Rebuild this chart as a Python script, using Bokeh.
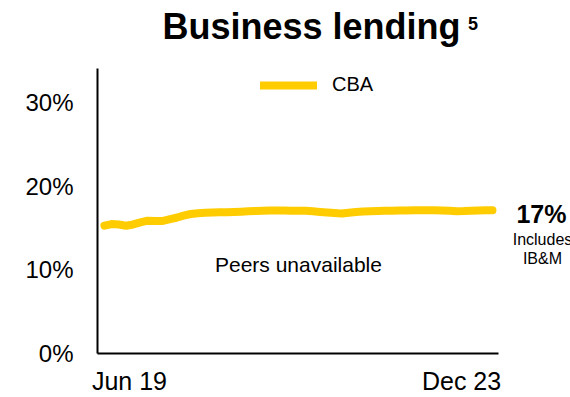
from bokeh.plotting import figure
from bokeh.models import Label, FixedTicker, Legend, LegendItem, Range1d
from bokeh.embed import file_html
from bokeh.resources import INLINE

# Monthly series, Jun 19 .. Dec 23 (55 months), share in %
months = list(range(55))
cba = [15.3, 15.5, 15.45, 15.3, 15.45, 15.7, 15.9, 15.85, 15.85, 16.05,
       16.25, 16.5, 16.7, 16.8, 16.85, 16.88, 16.9, 16.92, 16.95, 16.98,
       17.02, 17.06, 17.1, 17.12, 17.13, 17.12, 17.1, 17.1, 17.08, 17.02,
       16.95, 16.88, 16.82, 16.75, 16.85, 16.95, 17.0, 17.03, 17.06, 17.08,
       17.1, 17.12, 17.13, 17.14, 17.14, 17.14, 17.14, 17.12, 17.08, 17.03,
       17.05, 17.1, 17.13, 17.15, 17.15]
y_ticks = [0, 10, 20, 30]
y_tick_labels = {0: "0%", 10: "10%", 20: "20%", 30: "30%"}
x_ticks = [3.48, 49.7]
x_tick_labels = {3.48: "Jun 19", 49.7: "Dec 23"}
series_name = "CBA"
end_value_label = "17%"
end_note = ["Includes", "IB&M"]
note_text = "Peers unavailable"
title_text = "Business lending"
title_sup = "5"

YELLOW = "#FFCC00"
FONT = "Liberation Sans"

# the frame spans up to the top and right edges so that the title and the
# end-of-line notes can sit inside it; the axis lines are bounded instead
p = figure(width=570, height=397, output_backend="svg", toolbar_location=None,
           x_range=Range1d(-0.97, 64.86), y_range=Range1d(0, 42.26),
           min_border_left=97, min_border_right=0, min_border_top=0,
           min_border_bottom=42)
p.outline_line_color = None
p.grid.grid_line_color = None
p.background_fill_color = "white"
p.border_fill_color = "white"

r = p.line(months, cba, line_color=YELLOW, line_width=8, line_cap="round",
           line_join="round")

# y axis
ya = p.yaxis[0]
ya.bounds = (0, 34.17)
ya.ticker = FixedTicker(ticks=y_ticks)
ya.major_label_overrides = y_tick_labels
ya.major_tick_line_color = None
ya.major_tick_out = 0
ya.major_tick_in = 0
ya.minor_tick_line_color = None
ya.axis_line_color = "black"
ya.axis_line_width = 2
ya.major_label_text_font = FONT
ya.major_label_text_font_size = "24px"
ya.major_label_text_color = "black"
ya.major_label_standoff = 24

# x axis
xa = p.xaxis[0]
xa.bounds = (-0.97, 54.83)
xa.ticker = FixedTicker(ticks=x_ticks)
xa.major_label_overrides = x_tick_labels
xa.major_tick_line_color = None
xa.major_tick_out = 0
xa.major_tick_in = 0
xa.minor_tick_line_color = None
xa.axis_line_color = "black"
xa.axis_line_width = 2
xa.major_label_text_font = FONT
xa.major_label_text_font_size = "25px"
xa.major_label_text_color = "black"
xa.major_label_standoff = 13

# legend
legend = Legend(items=[LegendItem(label=series_name, renderers=[r])],
                location=(163, 257), orientation="horizontal",
                border_line_color=None, background_fill_alpha=0,
                padding=0, margin=0, spacing=0,
                glyph_width=57, glyph_height=20, label_height=20,
                label_standoff=15, label_text_font=FONT,
                label_text_font_size="20px", label_text_color="black")
p.add_layout(legend)


def dlabel(x, y, text, size, bold=False, align="center", baseline="middle"):
    return Label(x=x, y=y, text=text, text_align=align,
                 text_baseline=baseline, text_font=FONT, text_font_size=size,
                 text_font_style="bold" if bold else "normal",
                 text_color="black")


p.add_layout(dlabel(27.0, 10.71, note_text, "21px"))
p.add_layout(dlabel(60.82, 16.75, end_value_label, "25px", bold=True))
p.add_layout(dlabel(60.96, 13.6, end_note[0], "16px"))
p.add_layout(dlabel(60.96, 11.35, end_note[1], "16px"))
p.add_layout(dlabel(8.07, 39.1, title_text, "36px", bold=True, align="left",
                    baseline="alphabetic"))
p.add_layout(dlabel(50.6, 39.5, title_sup, "18px", bold=True, align="left",
                    baseline="alphabetic"))

open("out.html", "w").write(file_html(p, INLINE))
